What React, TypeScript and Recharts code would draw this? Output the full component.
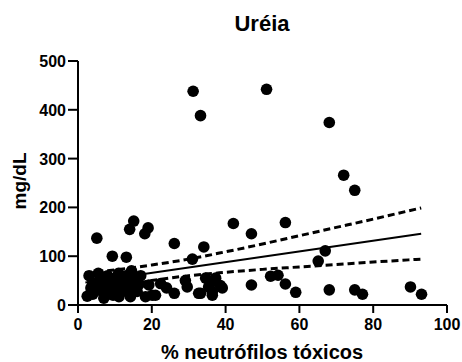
import { ComposedChart, Scatter, Line, XAxis, YAxis } from "recharts";

// % neutrófilos tóxicos vs uréia (mg/dL)
const pctToxic = [
  31.2, 33.2, 51.1, 68.1, 72.0, 75.0,
  42.1, 56.2, 47.0, 34.1, 26.1, 31.0,
  67.0, 65.1, 5.1, 15.1, 14.0, 19.0, 18.1, 9.3, 13.1,
  47.0, 52.2, 54.2, 56.2, 59.0, 68.1, 75.0, 77.1, 90.1, 93.1,
  29.1, 29.6, 32.7, 33.2, 34.6, 35.4, 35.9, 36.4, 37.3, 38.6, 39.1, 36.4,
  19.2, 20.1, 21.0, 22.4, 26.1, 24.0,
  2.5, 7.0, 11.1, 14.2, 18.3,
  3.0, 4.0, 5.0, 5.5, 6.0, 6.5, 7.5, 8.0, 8.5, 9.0, 10.0, 10.5, 11.0, 12.0,
  12.5, 13.0, 14.0, 14.5, 15.0, 16.0, 16.5, 17.0, 4.0, 9.5, 3.5,
];
const ureia = [
  438, 388, 442, 374, 266, 235,
  167, 169, 146, 119, 126, 94,
  111, 90, 137, 172, 155, 158, 146, 100, 98,
  41, 59, 61, 43, 26, 31, 31, 22, 37, 22,
  50, 37, 24, 24, 55, 37, 45, 27, 55, 40, 35, 20,
  41, 20, 20, 44, 24, 35,
  18, 14, 17, 17, 17,
  60, 45, 30, 65, 50, 38, 25, 60, 45, 30, 55, 40, 65, 28,
  48, 60, 35, 70, 50, 28, 42, 60, 22, 20, 35,
];

// linear fit and 95% band, read at a few x positions
const bandX = [2, 10, 20, 30, 40, 50, 60, 70, 80, 93];
const bandUpper = [66, 72, 82, 94, 109, 125, 142, 159, 176, 199];
const bandLower = [26, 38, 50, 60, 67, 73, 78, 83, 88, 94];
const fitX = [2, 93];
const fitY = [46, 146];

const xTicks = [0, 20, 40, 60, 80, 100];
const yTicks = [0, 100, 200, 300, 400, 500];

const points = pctToxic.map((x, i) => ({ x, y: ureia[i] }));
const upper = bandX.map((x, i) => ({ x, y: bandUpper[i] }));
const lower = bandX.map((x, i) => ({ x, y: bandLower[i] }));
const fit = fitX.map((x, i) => ({ x, y: fitY[i] }));

const font = "'Liberation Sans', Arial, sans-serif";

const Dot = (props: any) => <circle cx={props.cx} cy={props.cy} r={5.8} fill="#000" />;

const XTick = (props: any) => (
  <text
    x={props.x}
    y={props.y + 12}
    textAnchor="middle"
    fontSize={16}
    fontWeight={700}
    fontFamily={font}
    fill="#000"
  >
    {props.payload.value}
  </text>
);

const YTick = (props: any) => (
  <text
    x={props.x}
    y={props.y + 6}
    textAnchor="end"
    fontSize={16}
    fontWeight={700}
    fontFamily={font}
    fill="#000"
  >
    {props.payload.value}
  </text>
);

export default function App() {
  return (
    <div style={{ position: "absolute", left: 0, top: 0, width: 462, height: 362, background: "#fff" }}>
      <ComposedChart width={462} height={362} margin={{ top: 61, right: 15, bottom: 0, left: 0 }}>
        <XAxis
          type="number"
          dataKey="x"
          domain={[0, 100]}
          ticks={xTicks}
          height={57}
          tickSize={8}
          tickMargin={5}
          tick={<XTick />}
          axisLine={{ stroke: "#000", strokeWidth: 2 }}
          tickLine={{ stroke: "#000", strokeWidth: 2 }}
          allowDataOverflow
        />
        <YAxis
          type="number"
          dataKey="y"
          domain={[0, 500]}
          ticks={yTicks}
          width={78}
          tickSize={10}
          tickMargin={2}
          tick={<YTick />}
          axisLine={{ stroke: "#000", strokeWidth: 2 }}
          tickLine={{ stroke: "#000", strokeWidth: 2 }}
          allowDataOverflow
        />
        <Scatter data={points} shape={Dot} isAnimationActive={false} />
        <Line data={fit} dataKey="y" stroke="#000" strokeWidth={2} dot={false} isAnimationActive={false} />
        <Line
          data={upper}
          dataKey="y"
          type="monotone"
          stroke="#000"
          strokeWidth={3}
          strokeDasharray="7 4"
          dot={false}
          isAnimationActive={false}
        />
        <Line
          data={lower}
          dataKey="y"
          type="monotone"
          stroke="#000"
          strokeWidth={3}
          strokeDasharray="7 4"
          dot={false}
          isAnimationActive={false}
        />
      </ComposedChart>
      <svg width={462} height={362} style={{ position: "absolute", left: 0, top: 0, pointerEvents: "none" }}>
        <text x={262} y={31} textAnchor="middle" fontSize={22} fontWeight={700} fontFamily={font}>
          Uréia
        </text>
        <text
          x={26}
          y={181}
          transform="rotate(-90 26 181)"
          textAnchor="middle"
          fontSize={19}
          fontWeight={700}
          fontFamily={font}
        >
          mg/dL
        </text>
        <text x={262} y={359} textAnchor="middle" fontSize={20} fontWeight={700} fontFamily={font}>
          % neutrófilos tóxicos
        </text>
      </svg>
    </div>
  );
}
